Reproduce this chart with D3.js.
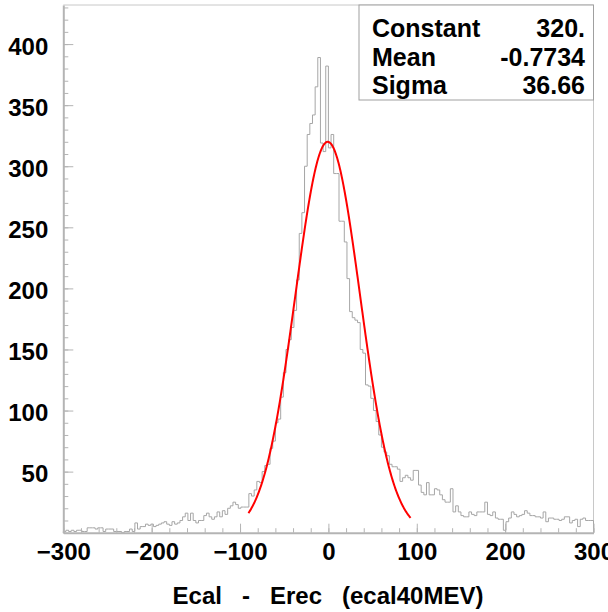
<!DOCTYPE html>
<html>
<head>
<meta charset="utf-8">
<script src="https://cdn.jsdelivr.net/npm/d3@7"></script>
<style>
  html, body { margin: 0; padding: 0; background: #fff; }
  svg { display: block; }
  text { font-family: "Liberation Sans", Arial, sans-serif; font-weight: bold; fill: #000; }
</style>
</head>
<body>
<script>
// Histogram binning: 200 bins of width 3 between -300 and 300
const binLow = -300;
const binHigh = 300;
const binWidth = 3;

// Entries per bin, low edge to high edge
const counts = [
  1, 2, 1, 2, 1, 2, 2, 1, 1, 4,
  4, 4, 3, 4, 4, 1, 3, 3, 3, 1,
  1, 1, 0, 1, 1, 3, 1, 8, 3, 5,
  5, 7, 6, 7, 5, 6, 7, 8, 9, 7,
  6, 9, 7, 8, 10, 13, 16, 10, 16, 10,
  8, 10, 10, 14, 16, 13, 11, 13, 17, 13,
  18, 15, 20, 22, 25, 23, 20, 21, 21, 21,
  32, 30, 35, 42, 41, 50, 55, 56, 69, 75,
  90, 93, 111, 131, 150, 158, 168, 182, 207, 245,
  262, 300, 326, 335, 342, 365, 389, 319, 312, 382,
  315, 326, 294, 294, 255, 255, 238, 208, 181, 176,
  174, 172, 150, 147, 121, 120, 110, 100, 91, 80,
  70, 66, 63, 56, 54, 54, 52, 42, 45, 47,
  45, 43, 51, 51, 39, 33, 31, 41, 31, 31,
  36, 35, 31, 27, 25, 25, 36, 17, 22, 17,
  14, 13, 13, 17, 15, 14, 17, 17, 17, 25,
  15, 14, 17, 12, 11, 11, 2, 9, 12, 17,
  15, 13, 14, 15, 18, 16, 14, 14, 13, 13,
  12, 17, 9, 12, 12, 11, 11, 10, 11, 13,
  13, 8, 10, 11, 5, 11, 12, 10, 10, 10
];

// Gaussian fit result and the range it was fitted over
const fitConstant = 320;
const fitMean = -0.7734;
const fitSigma = 36.66;
const fitRange = [-90.5, 93];

// Axis labelling
const xTickValues = [-300, -200, -100, 0, 100, 200, 300];
const yTickValues = [50, 100, 150, 200, 250, 300, 350, 400];
const yMax = 432;
const xTitle = "Ecal   -   Erec   (ecal40MEV)";

// Statistics box rows
const statNames = ["Constant", "Mean", "Sigma"];
const statValues = ["320.", "-0.7734", "36.66"];

const W = 608, H = 612;
const frame = { left: 63.3, right: 593.5, top: 5, bottom: 532.7 };
const axisGrey = "#b4b4b4";
const histGrey = "#a6a6a6";

const svg = d3.select("body").append("svg")
  .attr("width", W).attr("height", H);

const x = d3.scaleLinear().domain([binLow, binHigh]).range([frame.left, frame.right]);
const y = d3.scaleLinear().domain([0, yMax]).range([frame.bottom, frame.top]);

// Frame: top and right edges
svg.append("path")
  .attr("d", `M${frame.left},${frame.top}H${frame.right}V${frame.bottom}`)
  .attr("fill", "none").attr("stroke", "#c8c8c8").attr("stroke-width", 1);

// Histogram outline
const pts = [[binLow, 0]];
counts.forEach((c, i) => pts.push([binLow + i * binWidth, c]));
pts.push([binHigh, counts[counts.length - 1]]);
pts.push([binHigh, 0]);
const step = d3.line().x(d => x(d[0])).y(d => y(d[1])).curve(d3.curveStepAfter);
svg.append("path")
  .attr("d", step(pts))
  .attr("fill", "none").attr("stroke", histGrey).attr("stroke-width", 1);

// Fitted Gaussian
const gauss = v => fitConstant * Math.exp(-0.5 * Math.pow((v - fitMean) / fitSigma, 2));
const fitPts = d3.range(fitRange[0], fitRange[1], 0.5).concat([fitRange[1]]);
svg.append("path")
  .attr("d", d3.line().x(d => x(d)).y(d => y(gauss(d))).curve(d3.curveLinear)(fitPts))
  .attr("fill", "none").attr("stroke", "#ff0000").attr("stroke-width", 2);

// X axis: minor ticks every 20, labelled major ticks every 100
const gx = svg.append("g").attr("transform", `translate(0,${frame.bottom})`);
gx.append("g").call(d3.axisBottom(x).tickValues(d3.range(binLow, binHigh + 1, 20))
    .tickSize(-4.5).tickSizeOuter(0).tickFormat(""))
  .call(g => g.select(".domain").remove());
gx.append("g").call(d3.axisBottom(x).tickValues(xTickValues)
    .tickSize(-9).tickSizeOuter(0).tickPadding(10).tickFormat(d3.format("d")))
  .call(g => g.select(".domain").attr("stroke-width", 2))
  .call(g => g.selectAll("text").attr("font-size", 24).attr("fill", "#000"));
gx.selectAll("line").attr("stroke", axisGrey);
gx.selectAll(".domain").attr("stroke", axisGrey);

// Y axis: minor ticks every 10, labelled major ticks every 50
const gy = svg.append("g").attr("transform", `translate(${frame.left},0)`);
gy.append("g").call(d3.axisLeft(y).tickValues(d3.range(0, yMax, 10))
    .tickSize(-5).tickSizeOuter(0).tickFormat(""))
  .call(g => g.select(".domain").remove());
gy.append("g").call(d3.axisLeft(y).tickValues(yTickValues)
    .tickSize(-10).tickSizeOuter(0).tickPadding(15).tickFormat(d3.format("d")))
  .call(g => g.select(".domain").attr("stroke-width", 2))
  .call(g => g.selectAll("text").attr("font-size", 24).attr("dy", "0.42em").attr("fill", "#000"));
gy.selectAll("line").attr("stroke", axisGrey);
gy.selectAll(".domain").attr("stroke", axisGrey);

// X axis title
svg.append("text")
  .attr("x", 328).attr("y", 604)
  .attr("text-anchor", "middle")
  .attr("font-size", 24)
  .style("white-space", "pre")
  .text(xTitle);

// Statistics box
const box = { x: 359, y: frame.top, w: frame.right - 359, h: 95 };
svg.append("rect")
  .attr("x", box.x).attr("y", box.y).attr("width", box.w).attr("height", box.h)
  .attr("fill", "#fff").attr("stroke", "#a0a0a0").attr("stroke-width", 1);
const rowBase = [37, 66, 94];
statNames.forEach((name, i) => {
  svg.append("text").attr("x", 372).attr("y", rowBase[i])
    .attr("font-size", 25).text(name);
  svg.append("text").attr("x", 585).attr("y", rowBase[i])
    .attr("text-anchor", "end").attr("font-size", 25).text(statValues[i]);
});
</script>
</body>
</html>
